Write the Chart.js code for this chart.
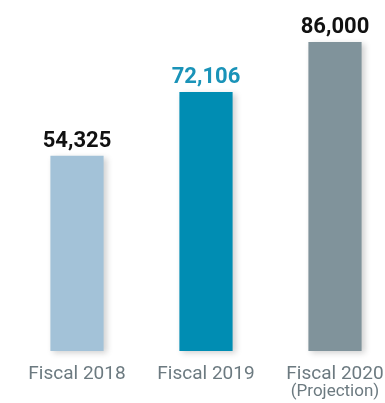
<!DOCTYPE html>
<html>
<head>
<meta charset="utf-8">
<script src="https://cdn.jsdelivr.net/npm/chart.js@4/dist/chart.umd.min.js"></script>
<style>
  html, body { margin: 0; padding: 0; background: #fff; }
  #wrap { width: 385px; height: 403px; position: relative; }
</style>
</head>
<body>
<div id="wrap"><canvas id="barChart"></canvas></div>
<script>
// Fiscal year totals
const years = ['Fiscal 2018', 'Fiscal 2019', 'Fiscal 2020'];
const subLabels = ['', '', '(Projection)'];
const values = [54325, 72106, 86000];
const barColors = ['#a3c2d8', '#008db3', '#80939b'];
const valueColors = ['#111111', '#1a93b8', '#111111'];

// Soft drop shadow behind the bars
const barShadow = {
  id: 'barShadow',
  beforeDatasetsDraw(chart) {
    const ctx = chart.ctx;
    ctx.save();
    ctx.shadowColor = 'rgba(0, 0, 0, 0.18)';
    ctx.shadowBlur = 6;
    ctx.shadowOffsetX = 3;
    ctx.shadowOffsetY = 2;
  },
  afterDatasetsDraw(chart) {
    chart.ctx.restore();
  }
};

// Value above each bar, year label below it
const barLabels = {
  id: 'barLabels',
  afterDraw(chart) {
    const ctx = chart.ctx;
    const meta = chart.getDatasetMeta(0);
    const xScale = chart.scales.x;
    const base = chart.scales.y.getPixelForValue(0);
    ctx.save();
    ctx.textAlign = 'center';
    ctx.textBaseline = 'alphabetic';
    meta.data.forEach((bar, i) => {
      ctx.font = 'bold 22px Roboto';
      ctx.fillStyle = valueColors[i];
      ctx.fillText(values[i].toLocaleString('en-US'), bar.x, bar.y - 9);

      const x = xScale.getPixelForValue(i);
      ctx.font = '19px Roboto';
      ctx.fillStyle = '#6c7a80';
      ctx.fillText(years[i], x, base + 28);
      if (subLabels[i]) {
        ctx.font = '17px Roboto';
        ctx.fillText(subLabels[i], x, base + 45);
      }
    });
    ctx.restore();
  }
};

new Chart(document.getElementById('barChart'), {
  type: 'bar',
  data: {
    labels: years,
    datasets: [{
      data: values,
      backgroundColor: barColors,
      borderWidth: 0,
      categoryPercentage: 1,
      barPercentage: 0.4125,
      clip: false
    }]
  },
  options: {
    responsive: true,
    maintainAspectRatio: false,
    animation: false,
    layout: {
      padding: { top: 42, bottom: 52, left: 77, right: 50 }
    },
    plugins: {
      legend: { display: false },
      tooltip: { enabled: false }
    },
    scales: {
      x: {
        display: false,
        offset: false
      },
      y: {
        display: false,
        min: 0,
        max: 86000
      }
    }
  },
  plugins: [barShadow, barLabels]
});
</script>
</body>
</html>
